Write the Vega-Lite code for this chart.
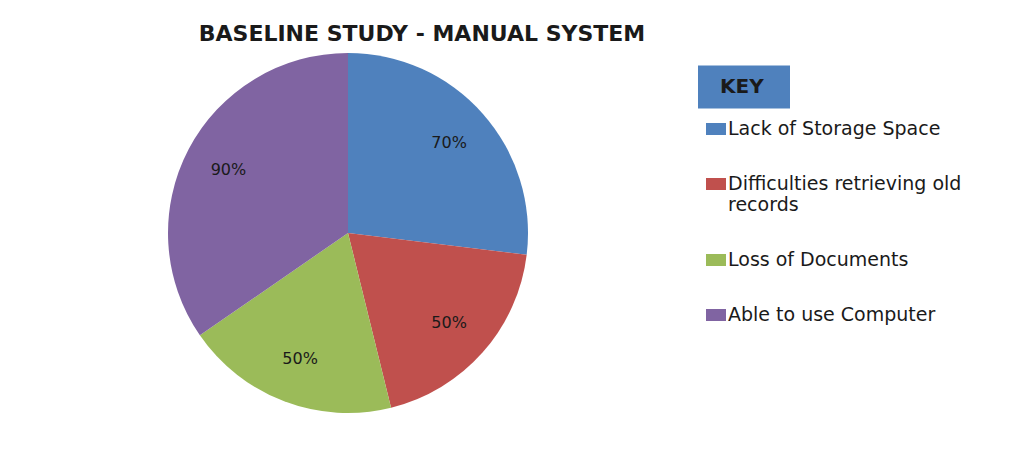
{
  "$schema": "https://vega.github.io/schema/vega-lite/v6.json",
  "autosize": {"type": "none"},
  "padding": {"left": 0, "top": 16, "right": 338, "bottom": 0},
  "width": 696,
  "height": 434,
  "background": "white",
  "config": {"view": {"stroke": null}},
  "title": {
    "text": "BASELINE STUDY - MANUAL SYSTEM",
    "frame": "group",
    "anchor": "middle",
    "dx": 74,
    "dy": 47,
    "offset": 0,
    "baseline": "alphabetic",
    "font": "DejaVu Sans",
    "fontSize": 22,
    "fontWeight": "bold",
    "color": "#1a1a1a"
  },
  "layer": [
    {
      "data": {
        "values": [
          {"category": "Lack of Storage Space", "value": 70, "label": "70%", "idx": 1},
          {"category": "Difficulties retrieving old records", "value": 50, "label": "50%", "idx": 2},
          {"category": "Loss of Documents", "value": 50, "label": "50%", "idx": 3},
          {"category": "Able to use Computer", "value": 90, "label": "90%", "idx": 4}
        ]
      },
      "encoding": {
        "theta": {"field": "value", "type": "quantitative", "stack": true},
        "order": {"field": "idx", "type": "quantitative"}
      },
      "layer": [
        {
          "mark": {"type": "arc", "outerRadius": 180},
          "encoding": {
            "color": {
              "field": "category",
              "type": "nominal",
              "scale": {
                "domain": ["Lack of Storage Space", "Difficulties retrieving old records", "Loss of Documents", "Able to use Computer"],
                "range": ["#4F81BD", "#C0504D", "#9BBB59", "#8064A2"]
              },
              "legend": {
                "orient": "none",
                "legendX": 706,
                "legendY": 103,
                "title": null,
                "padding": 0,
                "symbolType": "M-1,-0.6H1V0.6H-1Z",
                "symbolSize": 400,
                "symbolStrokeWidth": 0,
                "labelFont": "DejaVu Sans",
                "labelFontSize": 19,
                "labelColor": "#1a1a1a",
                "labelOffset": 2,
                "labelLimit": 400,
                "rowPadding": 35,
                "labelExpr": "datum.label == 'Difficulties retrieving old records' ? ['Difficulties retrieving old', 'records'] : datum.label"
              }
            }
          }
        },
        {
          "mark": {"type": "text", "radius": 135, "font": "DejaVu Sans", "fontSize": 16, "color": "#1a1a1a"},
          "encoding": {
            "text": {"field": "label", "type": "nominal"},
            "detail": {"field": "category", "type": "nominal"}
          }
        }
      ]
    },
    {
      "data": {"values": [{"k": "KEY"}]},
      "mark": {"type": "square", "size": 0},
      "encoding": {
        "color": {
          "field": "k",
          "type": "nominal",
          "scale": {"domain": ["KEY"], "range": ["#4F81BD"]},
          "legend": {
            "orient": "none",
            "legendX": 698,
            "legendY": 25,
            "title": null,
            "padding": 0,
            "symbolType": "M-1,-0.467H1V0.467H-1Z",
            "symbolSize": 8464,
            "symbolOpacity": 1,
            "symbolStrokeWidth": 0,
            "labelOffset": -70,
            "labelFont": "DejaVu Sans",
            "labelFontSize": 20,
            "labelFontWeight": "bold",
            "labelColor": "#1a1a1a"
          }
        }
      }
    }
  ],
  "resolve": {"scale": {"color": "independent"}}
}
